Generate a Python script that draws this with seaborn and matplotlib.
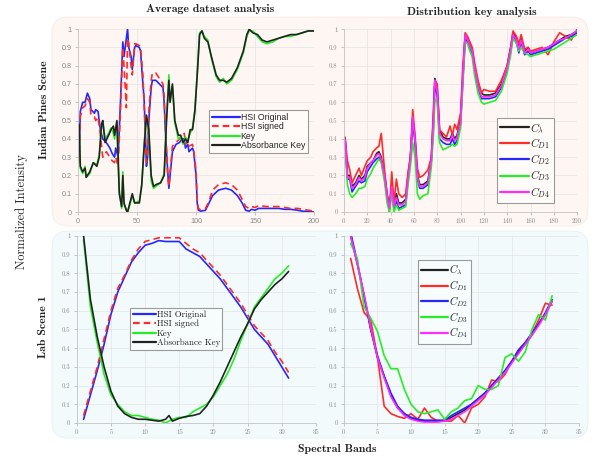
import matplotlib
matplotlib.use('Agg')
import matplotlib.pyplot as plt
from matplotlib.patches import FancyBboxPatch
from matplotlib.ticker import FuncFormatter, MultipleLocator
import seaborn as sns

# ── data: Indian Pines, average dataset analysis ────────────────────────────
HSI_BANDS = [1, 2, 4, 6, 8, 10, 11, 14, 15, 17,
             18, 19, 21, 24, 27, 29, 31, 32, 34, 35,
             36, 38, 39, 41, 42, 43, 45, 46, 48, 49,
             52, 53, 55, 56, 57, 58, 59, 60, 62, 63,
             66, 69, 72, 73, 74, 76, 77, 78, 80, 83,
             86, 88, 90, 91, 93, 94, 97, 98, 100, 101,
             102, 104, 108, 111, 114, 119, 125, 130, 135, 139,
             142, 145, 147, 150, 153, 160, 165, 170, 175, 180,
             186, 190, 195, 200]
hsi_original = [0.30, 0.55, 0.60, 0.60, 0.65, 0.62, 0.56, 0.54, 0.56, 0.55,
                0.50, 0.45, 0.40, 0.38, 0.35, 0.32, 0.30, 0.35, 0.30, 0.45,
                0.60, 0.93, 0.85, 0.95, 1.00, 0.90, 0.85, 0.78, 0.90, 0.91,
                0.90, 0.88, 0.70, 0.62, 0.45, 0.25, 0.30, 0.50, 0.68, 0.72,
                0.72, 0.70, 0.68, 0.60, 0.45, 0.22, 0.13, 0.20, 0.33, 0.37,
                0.38, 0.40, 0.40, 0.35, 0.37, 0.33, 0.35, 0.33, 0.20, 0.05,
                0.01, 0.005, 0.01, 0.05, 0.09, 0.12, 0.13, 0.12, 0.09, 0.05,
                0.01, 0.005, 0.015, 0.01, 0.02, 0.02, 0.02, 0.02, 0.015, 0.015,
                0.01, 0.005, 0.003, 0.0]
hsi_signed = [0.27, 0.52, 0.57, 0.58, 0.62, 0.60, 0.53, 0.52, 0.50, 0.52,
              0.47, 0.42, 0.30, 0.33, 0.30, 0.28, 0.27, 0.30, 0.25, 0.40,
              0.55, 0.90, 0.80, 0.57, 0.95, 0.92, 0.80, 0.75, 0.92, 0.92,
              0.91, 0.90, 0.75, 0.60, 0.40, 0.27, 0.33, 0.55, 0.72, 0.76,
              0.76, 0.73, 0.70, 0.63, 0.47, 0.20, 0.14, 0.22, 0.36, 0.38,
              0.40, 0.42, 0.43, 0.37, 0.39, 0.36, 0.37, 0.34, 0.22, 0.06,
              0.02, 0.01, 0.02, 0.06, 0.12, 0.15, 0.16, 0.15, 0.12, 0.07,
              0.03, 0.02, 0.03, 0.025, 0.035, 0.03, 0.03, 0.03, 0.025, 0.02,
              0.02, 0.015, 0.01, 0.005]

KEY_BANDS = [1, 2, 4, 6, 7, 10, 13, 16, 18, 20,
             21, 23, 26, 28, 30, 31, 33, 34, 35, 37,
             38, 39, 41, 42, 44, 46, 48, 52, 54, 56,
             58, 60, 62, 64, 66, 70, 73, 75, 77, 78,
             80, 82, 85, 87, 89, 91, 93, 95, 97, 99,
             101, 103, 105, 107, 110, 113, 117, 120, 123, 126,
             130, 135, 140, 143, 145, 148, 152, 156, 160, 165,
             170, 175, 180, 185, 190, 195, 200]
key = [0.47, 0.24, 0.21, 0.25, 0.19, 0.21, 0.27, 0.26, 0.31, 0.47,
       0.50, 0.40, 0.43, 0.46, 0.43, 0.40, 0.49, 0.28, 0.12, 0.02,
       0.22, 0.04, 0.01, 0.00, 0.04, 0.09, 0.05, 0.06, 0.14, 0.37,
       0.52, 0.43, 0.17, 0.13, 0.14, 0.16, 0.21, 0.52, 0.75, 0.61,
       0.69, 0.49, 0.40, 0.41, 0.37, 0.41, 0.39, 0.43, 0.46, 0.56,
       0.76, 0.98, 0.99, 0.96, 0.94, 0.84, 0.74, 0.71, 0.73, 0.70,
       0.72, 0.78, 0.87, 0.96, 0.99, 0.99, 0.96, 0.93, 0.92, 0.93,
       0.95, 0.96, 0.96, 0.97, 0.98, 0.99, 0.99]
absorbance_key = [0.48, 0.25, 0.22, 0.24, 0.19, 0.22, 0.27, 0.25, 0.30, 0.48,
                  0.50, 0.38, 0.42, 0.45, 0.47, 0.42, 0.50, 0.30, 0.10, 0.03,
                  0.20, 0.05, 0.01, 0.00, 0.05, 0.10, 0.05, 0.05, 0.15, 0.35,
                  0.53, 0.45, 0.20, 0.14, 0.15, 0.16, 0.20, 0.50, 0.72, 0.60,
                  0.70, 0.50, 0.42, 0.42, 0.38, 0.40, 0.38, 0.45, 0.45, 0.55,
                  0.75, 0.97, 0.99, 0.95, 0.93, 0.85, 0.75, 0.72, 0.72, 0.71,
                  0.73, 0.79, 0.88, 0.97, 1.00, 0.98, 0.97, 0.94, 0.93, 0.94,
                  0.95, 0.96, 0.97, 0.97, 0.98, 0.99, 0.99]

# ── data: Indian Pines, distribution key analysis ───────────────────────────
TR_BANDS = [1, 3, 5, 7, 10, 13, 15, 18, 20, 23,
            25, 28, 30, 32, 35, 37, 39, 41, 43, 45,
            47, 50, 53, 55, 57, 59, 61, 63, 65, 68,
            72, 75, 77, 78, 80, 82, 85, 88, 91, 93,
            95, 97, 100, 102, 104, 106, 108, 110, 112, 115,
            118, 120, 125, 130, 135, 140, 143, 145, 148, 150,
            152, 155, 158, 160, 165, 170, 175, 180, 185, 190,
            195, 200]
ip_c_lambda = [0.40, 0.20, 0.20, 0.14, 0.16, 0.20, 0.18, 0.20, 0.25, 0.27,
               0.28, 0.32, 0.33, 0.30, 0.20, 0.10, 0.03, 0.15, 0.05, 0.10,
               0.05, 0.05, 0.07, 0.20, 0.30, 0.52, 0.40, 0.20, 0.15, 0.15,
               0.17, 0.30, 0.55, 0.73, 0.68, 0.45, 0.41, 0.40, 0.40, 0.43,
               0.40, 0.42, 0.50, 0.75, 0.97, 0.95, 0.92, 0.89, 0.80, 0.70,
               0.65, 0.64, 0.64, 0.65, 0.70, 0.80, 0.90, 0.98, 0.95, 0.90,
               0.95, 0.88, 0.90, 0.87, 0.88, 0.89, 0.90, 0.92, 0.94, 0.96,
               0.97, 0.99]
ip_c_d1 = [0.41, 0.28, 0.23, 0.16, 0.20, 0.24, 0.20, 0.25, 0.28, 0.30,
           0.33, 0.35, 0.36, 0.43, 0.22, 0.10, 0.00, 0.22, 0.05, 0.18,
           0.10, 0.08, 0.10, 0.22, 0.30, 0.56, 0.42, 0.24, 0.19, 0.20,
           0.23, 0.30, 0.60, 0.72, 0.70, 0.45, 0.43, 0.41, 0.47, 0.42,
           0.48, 0.45, 0.54, 0.80, 0.98, 0.96, 0.93, 0.90, 0.82, 0.72,
           0.65, 0.67, 0.66, 0.66, 0.72, 0.80, 0.90, 0.99, 0.96, 0.92,
           0.97, 0.89, 0.90, 0.88, 0.89, 0.90, 0.86, 0.93, 0.98, 0.96,
           0.94, 1.00]
ip_c_d2 = [0.40, 0.18, 0.18, 0.11, 0.14, 0.17, 0.16, 0.17, 0.22, 0.25,
           0.27, 0.29, 0.30, 0.28, 0.18, 0.08, 0.02, 0.12, 0.01, 0.06,
           0.02, 0.03, 0.04, 0.18, 0.28, 0.50, 0.38, 0.18, 0.13, 0.13,
           0.15, 0.28, 0.50, 0.70, 0.64, 0.40, 0.38, 0.37, 0.37, 0.40,
           0.37, 0.39, 0.48, 0.72, 0.95, 0.93, 0.90, 0.87, 0.78, 0.68,
           0.62, 0.62, 0.62, 0.63, 0.68, 0.78, 0.88, 0.96, 0.93, 0.87,
           0.93, 0.86, 0.88, 0.86, 0.87, 0.88, 0.89, 0.91, 0.93, 0.95,
           0.96, 0.98]
ip_c_d3 = [0.38, 0.15, 0.10, 0.08, 0.10, 0.13, 0.13, 0.14, 0.18, 0.21,
           0.24, 0.27, 0.29, 0.27, 0.16, 0.05, 0.00, 0.10, 0.00, 0.04,
           0.01, 0.02, 0.03, 0.15, 0.25, 0.38, 0.30, 0.10, 0.07, 0.09,
           0.10, 0.25, 0.45, 0.62, 0.60, 0.38, 0.34, 0.35, 0.36, 0.37,
           0.36, 0.37, 0.46, 0.70, 0.93, 0.92, 0.88, 0.85, 0.75, 0.65,
           0.60, 0.59, 0.60, 0.61, 0.66, 0.76, 0.86, 0.95, 0.92, 0.88,
           0.90, 0.87, 0.86, 0.85, 0.86, 0.87, 0.88, 0.89, 0.91, 0.93,
           0.95, 0.97]
ip_c_d4 = [0.40, 0.19, 0.19, 0.13, 0.15, 0.19, 0.17, 0.19, 0.24, 0.27,
           0.28, 0.31, 0.32, 0.29, 0.19, 0.09, 0.02, 0.14, 0.03, 0.08,
           0.04, 0.04, 0.06, 0.19, 0.29, 0.52, 0.39, 0.19, 0.14, 0.14,
           0.16, 0.29, 0.53, 0.72, 0.66, 0.43, 0.40, 0.39, 0.39, 0.42,
           0.39, 0.41, 0.49, 0.74, 0.97, 0.94, 0.91, 0.88, 0.79, 0.69,
           0.63, 0.63, 0.63, 0.64, 0.69, 0.79, 0.89, 0.97, 0.94, 0.89,
           0.94, 0.87, 0.89, 0.87, 0.88, 0.89, 0.90, 0.92, 0.94, 0.95,
           0.97, 0.99]

# ── data: Lab scene 1 ───────────────────────────────────────────────────────
LAB_BANDS = [1, 2, 3, 4, 5, 6, 7, 8, 9, 10, 11, 12, 13, 14, 15, 16,
             17, 18, 19, 20, 21, 22, 23, 24, 25, 26, 27, 28, 29, 30, 31]
LAB_KEY_BANDS = [1, 2, 3, 4, 5, 6, 7, 8, 9, 10, 11, 12, 13, 13.5, 14, 15, 16,
                 17, 18, 19, 20, 21, 22, 23, 24, 25, 26, 27, 28, 29, 30, 31]
lab_original = [0.02, 0.15, 0.28, 0.42, 0.58, 0.70, 0.78, 0.86, 0.91, 0.95,
                0.96, 0.975, 0.97, 0.97, 0.97, 0.93, 0.91, 0.89, 0.85, 0.81,
                0.77, 0.72, 0.67, 0.62, 0.56, 0.50, 0.46, 0.42, 0.36, 0.30, 0.24]
lab_signed = [0.04, 0.17, 0.30, 0.45, 0.60, 0.72, 0.79, 0.87, 0.93, 0.97,
              0.98, 0.99, 0.99, 0.99, 0.99, 0.96, 0.93, 0.91, 0.87, 0.83,
              0.79, 0.74, 0.69, 0.64, 0.58, 0.52, 0.48, 0.44, 0.38, 0.33, 0.27]
lab_key = [0.98, 0.62, 0.43, 0.26, 0.15, 0.10, 0.06, 0.04, 0.04, 0.03,
           0.02, 0.015, 0.0, 0.02, 0.03, 0.03, 0.06, 0.08, 0.10, 0.14,
           0.20, 0.26, 0.34, 0.44, 0.53, 0.62, 0.67, 0.72, 0.77, 0.80, 0.84]
lab_absorbance = [1.0, 0.66, 0.46, 0.30, 0.17, 0.09, 0.05, 0.03, 0.02, 0.02,
                  0.015, 0.01, 0.02, 0.04, 0.01, 0.025, 0.035, 0.04, 0.05, 0.09,
                  0.15, 0.22, 0.30, 0.38, 0.46, 0.53, 0.61, 0.66, 0.70, 0.74,
                  0.77, 0.81]

lab_c_lambda = [1.0, 0.85, 0.68, 0.50, 0.35, 0.25, 0.15, 0.08, 0.05, 0.025,
                0.015, 0.01, 0.01, 0.01, 0.01, 0.03, 0.05, 0.07, 0.10, 0.13,
                0.16, 0.20, 0.24, 0.28, 0.33, 0.38, 0.42, 0.47, 0.53, 0.58, 0.65]
lab_c_d1 = [0.88, 0.72, 0.59, 0.55, 0.35, 0.09, 0.05, 0.035, 0.025, 0.05,
            0.02, 0.08, 0.03, 0.01, 0.01, 0.01, 0.04, 0.0, 0.08, 0.10,
            0.14, 0.23, 0.22, 0.26, 0.33, 0.39, 0.43, 0.48, 0.55, 0.64, 0.63]
lab_c_d2 = [1.02, 0.86, 0.68, 0.50, 0.36, 0.25, 0.16, 0.09, 0.05, 0.03,
            0.02, 0.015, 0.015, 0.015, 0.015, 0.04, 0.06, 0.08, 0.10, 0.13,
            0.16, 0.20, 0.24, 0.28, 0.33, 0.39, 0.43, 0.48, 0.53, 0.59, 0.66]
lab_c_d3 = [0.96, 0.88, 0.62, 0.56, 0.49, 0.36, 0.29, 0.29, 0.18, 0.10,
            0.06, 0.05, 0.06, 0.07, 0.02, 0.06, 0.08, 0.12, 0.13, 0.20,
            0.18, 0.18, 0.20, 0.35, 0.37, 0.33, 0.38, 0.50, 0.58, 0.55, 0.68]
lab_c_d4 = [1.0, 0.85, 0.69, 0.51, 0.35, 0.24, 0.14, 0.08, 0.04, 0.02,
            0.01, 0.005, 0.005, 0.005, 0.01, 0.02, 0.04, 0.06, 0.09, 0.12,
            0.15, 0.19, 0.23, 0.27, 0.32, 0.37, 0.42, 0.47, 0.52, 0.58, 0.65]

KEY_LABELS = [r'$C_\lambda$', r'$C_{D1}$', r'$C_{D2}$', r'$C_{D3}$', r'$C_{D4}$']

# ── style ───────────────────────────────────────────────────────────────────
BLUE = '#2626ff'
RED = '#ff2a2a'
GREEN = '#26ee26'
BLACK = '#222222'
MAGENTA = '#ff2cff'
KEY_COLORS = [BLACK, RED, BLUE, GREEN, MAGENTA]

TOP_BG = '#fdf6f3'
BOTTOM_BG = '#f2fafc'
TICK_COLOR = '#8a8a8a'
GRID_COLOR = '#e4e4e4'

sns.set_theme(style='whitegrid')
plt.rcParams.update({
    'mathtext.fontset': 'cm',
    'axes.formatter.use_mathtext': True,
    'font.family': ['cmr10', 'DejaVu Serif'],
})

LW = 1.2


def style_axes(ax, xmax, xstep, tick_family, tick_size):
    ax.set_facecolor('none')
    ax.set_xlim(0, xmax)
    ax.set_ylim(0, 1)
    ax.xaxis.set_major_locator(MultipleLocator(xstep))
    ax.yaxis.set_major_locator(MultipleLocator(0.1))
    ax.yaxis.set_major_formatter(FuncFormatter(lambda v, p: f'{v:g}'))
    ax.xaxis.set_major_formatter(FuncFormatter(lambda v, p: f'{v:g}'))
    ax.grid(True, color=GRID_COLOR, linewidth=0.5)
    for side in ['top', 'right']:
        ax.spines[side].set_visible(False)
    for side in ['left', 'bottom']:
        ax.spines[side].set_color('#c4c4c4')
        ax.spines[side].set_linewidth(0.6)
    ax.tick_params(axis='both', which='major', length=2, width=0.5, color='#b0b0b0',
                   labelcolor=TICK_COLOR, labelsize=tick_size, pad=2.5,
                   bottom=True, left=True)
    for lab in ax.get_xticklabels() + ax.get_yticklabels():
        lab.set_family(tick_family)
    ax.set_xlabel('')
    ax.set_ylabel('')


def add_legend(ax, anchor, fontsize, family, handlelength, labelspacing, facecolor):
    leg = ax.legend(loc='upper left', bbox_to_anchor=anchor, borderaxespad=0,
                    fancybox=False, framealpha=1, facecolor=facecolor,
                    edgecolor='#9a9a9a', handlelength=handlelength,
                    handletextpad=0.1, labelspacing=labelspacing,
                    borderpad=0.3, prop={'family': family, 'size': fontsize})
    leg.get_frame().set_linewidth(0.8)
    for line in leg.get_lines():
        line.set_linewidth(1.6)
    return leg


fig = plt.figure(figsize=(5.95, 4.62), dpi=100)

# rounded row backgrounds (inch coordinates keep the corners circular)
for (x0, y0, w, h), col, edge in [((0.52, 2.36, 5.36, 2.09), TOP_BG, '#f6ebe6'),
                                  ((0.52, 0.24, 5.36, 2.07), BOTTOM_BG, '#e3f1f5')]:
    fig.add_artist(FancyBboxPatch((x0, y0), w, h,
                                  boxstyle='round,pad=0,rounding_size=0.16',
                                  transform=fig.dpi_scale_trans,
                                  facecolor=col, edgecolor=edge, linewidth=0.6,
                                  zorder=-5))

ax_tl = fig.add_axes([0.131, 0.541, 0.397, 0.396])
ax_tr = fig.add_axes([0.578, 0.541, 0.392, 0.396])
ax_bl = fig.add_axes([0.129, 0.0844, 0.402, 0.405])
ax_br = fig.add_axes([0.578, 0.0844, 0.395, 0.405])

# top-left: average dataset analysis
sns.lineplot(x=HSI_BANDS, y=hsi_original, ax=ax_tl, color=BLUE, lw=LW, label='HSI Original')
sns.lineplot(x=HSI_BANDS, y=hsi_signed, ax=ax_tl, color=RED, lw=LW, label='HSI signed',
             linestyle=(0, (4, 2.5)))
sns.lineplot(x=KEY_BANDS, y=key, ax=ax_tl, color=GREEN, lw=LW, label='Key')
sns.lineplot(x=KEY_BANDS, y=absorbance_key, ax=ax_tl, color=BLACK, lw=LW, label='Absorbance Key')
style_axes(ax_tl, 200, 50, 'Liberation Sans', 5.2)
leg = add_legend(ax_tl, (0.555, 0.557), 6.3, 'Liberation Sans', 3.2, 0.05, '#fffbf9')
leg.get_lines()[1].set_linestyle((0, (3, 1.8)))

# top-right: distribution key analysis
for vals, col, lab in zip([ip_c_lambda, ip_c_d1, ip_c_d2, ip_c_d3, ip_c_d4], KEY_COLORS, KEY_LABELS):
    sns.lineplot(x=TR_BANDS, y=vals, ax=ax_tr, color=col, lw=LW, label=lab)
style_axes(ax_tr, 200, 20, 'cmr10', 4.8)
add_legend(ax_tr, (0.657, 0.514), 8, 'cmr10', 2.6, 0.12, '#fffbf9')

# bottom-left: lab scene averages
sns.lineplot(x=LAB_BANDS, y=lab_original, ax=ax_bl, color=BLUE, lw=LW, label='HSI Original')
sns.lineplot(x=LAB_BANDS, y=lab_signed, ax=ax_bl, color=RED, lw=LW, label='HSI signed',
             linestyle=(0, (4, 2.5)))
sns.lineplot(x=LAB_BANDS, y=lab_key, ax=ax_bl, color=GREEN, lw=LW, label='Key')
sns.lineplot(x=LAB_KEY_BANDS, y=lab_absorbance, ax=ax_bl, color=BLACK, lw=LW, label='Absorbance Key')
style_axes(ax_bl, 35, 5, 'cmr10', 4.8)
leg = add_legend(ax_bl, (0.222, 0.615), 6.4, 'cmr10', 2.6, 0.1, '#f7fcfd')
leg.get_lines()[1].set_linestyle((0, (3, 1.8)))

# bottom-right: lab scene keys
for vals, col, lab in zip([lab_c_lambda, lab_c_d1, lab_c_d2, lab_c_d3, lab_c_d4], KEY_COLORS, KEY_LABELS):
    sns.lineplot(x=LAB_BANDS, y=vals, ax=ax_br, color=col, lw=LW, label=lab)
style_axes(ax_br, 35, 5, 'cmr10', 4.8)
add_legend(ax_br, (0.315, 0.872), 7.5, 'cmr10', 2.6, 0.1, '#f7fcfd')

# figure labels
fig.text(0.353, 0.980, 'Average dataset analysis', ha='center', va='center',
         family='cmb10', fontsize=8.5)
fig.text(0.793, 0.974, 'Distribution key analysis', ha='center', va='center',
         family='cmb10', fontsize=8.5)
fig.text(0.074, 0.762, 'Indian Pines Scene', ha='center', va='center', rotation=90,
         family='cmb10', fontsize=8.5)
fig.text(0.072, 0.292, 'Lab Scene 1', ha='center', va='center', rotation=90,
         family='cmb10', fontsize=8.5)
fig.text(0.037, 0.543, 'Normalized Intensity', ha='center', va='center', rotation=90,
         family='cmr10', fontsize=9)
fig.text(0.566, 0.028, 'Spectral Bands', ha='center', va='center',
         family='cmb10', fontsize=8.5)

fig.savefig('out.png', dpi=100)
